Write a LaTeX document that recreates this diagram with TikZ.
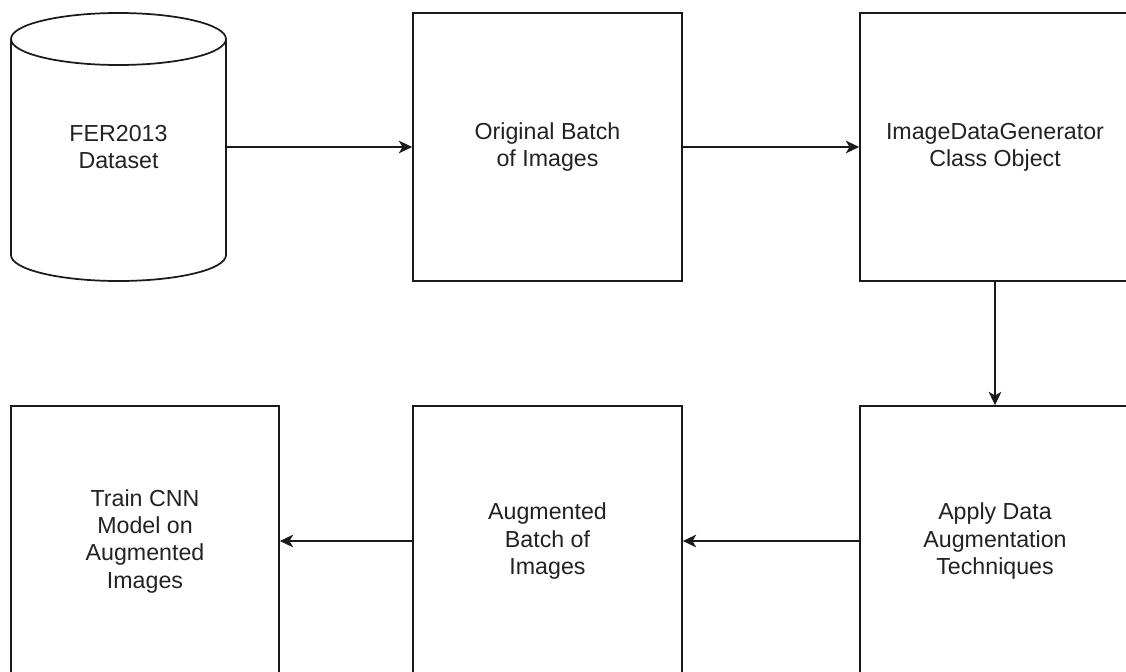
\documentclass[tikz,border=0pt]{standalone}
\usepackage{fontspec}
\setmainfont{Liberation Sans}
\usetikzlibrary{arrows.meta}
\definecolor{txt}{HTML}{222222}
\definecolor{ln}{HTML}{1A1A1A}
\begin{document}
\begin{tikzpicture}[x=0.75pt,y=-0.75pt,
  font=\fontsize{17.4}{20.5}\selectfont,
  box/.style={draw=ln,line width=1.3pt,fill=white,text=txt,align=center,inner sep=0pt},
  conn/.style={draw=ln,line width=1.3pt,-{Stealth[length=10pt,width=9.5pt,inset=2.8pt]}}]
\useasboundingbox (0,0) rectangle (1126,671);
\clip (0,0) rectangle (1126,671);
\fill[white] (0,0) rectangle (1126,671);
% cylinder
\node[inner sep=0pt,minimum width=161.25pt,minimum height=201pt,text=txt,align=center] (db) at (118.5,147) {};
\fill[white] (11,39) -- (11,255) arc[start angle=180,end angle=360,x radius=80.625pt,y radius=19.5pt] -- (226,39) -- cycle;
\draw[ln,line width=1.3pt,fill=white] (118.5,39) ellipse [x radius=80.625pt,y radius=19.5pt];
\draw[ln,line width=1.3pt] (11,39) -- (11,255) arc[start angle=180,end angle=360,x radius=80.625pt,y radius=19.5pt] -- (226,39);
\node[text=txt,align=center] at (db.center) {FER2013\\Dataset};
% boxes
\node[box,minimum width=201.75pt,minimum height=201pt] (orig) at (547.5,147) {Original Batch\\of Images};
\node[box,minimum width=202.5pt,minimum height=201pt] (gen) at (995,147) {ImageDataGenerator\\Class Object};
\node[box,minimum width=202.5pt,minimum height=202.5pt] (apply) at (995,541) {Apply Data\\Augmentation\\Techniques};
\node[box,minimum width=201.75pt,minimum height=202.5pt] (aug) at (547.5,541) {Augmented\\Batch of\\Images};
\node[box,minimum width=201pt,minimum height=202.5pt] (train) at (145,541) {Train CNN\\Model on\\Augmented\\Images};
% connectors
\draw[conn] (db.east) -- (orig.west);
\draw[conn] (orig.east) -- (gen.west);
\draw[conn] (gen.south) -- (apply.north);
\draw[conn] (apply.west) -- (aug.east);
\draw[conn] (aug.west) -- (train.east);
\end{tikzpicture}
\end{document}
